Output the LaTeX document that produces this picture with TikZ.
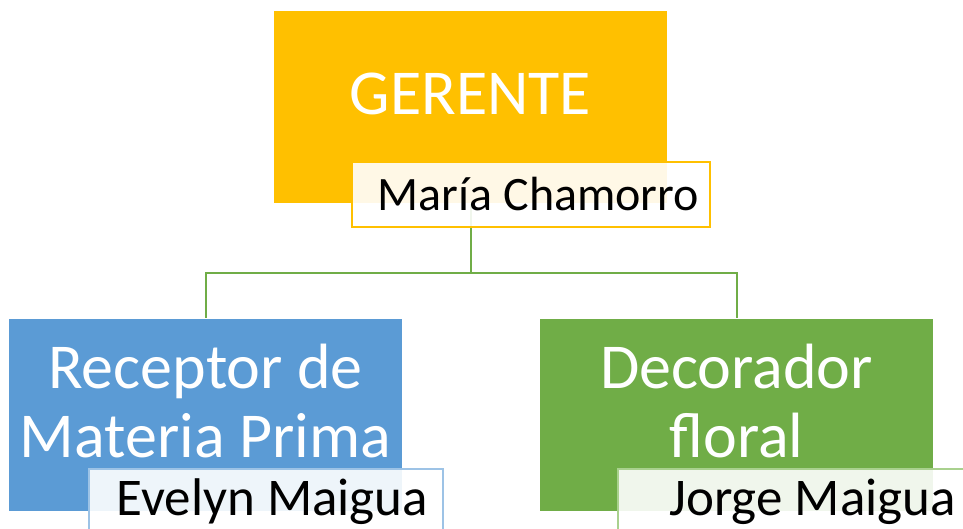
\documentclass[tikz,border=0pt]{standalone}
\usepackage{fontspec}
\setmainfont{Carlito}
\usetikzlibrary{positioning,calc}

\definecolor{oro}{HTML}{FFC000}
\definecolor{azul}{HTML}{5B9BD5}
\definecolor{verde}{HTML}{70AD47}
\definecolor{azulclaro}{HTML}{9DC3E6}
\definecolor{verdeclaro}{HTML}{A9D18E}

\begin{document}
\begin{tikzpicture}[x=1pt,y=-1pt,
    cargo/.style={rectangle,minimum width=393pt,minimum height=192pt,inner sep=0pt},
    titulo/.style={text=white,align=center,inner sep=0pt,font=\fontsize{64}{69}\selectfont},
    nombre/.style={rectangle,draw,line width=1.5pt,fill=white,fill opacity=0.9,text opacity=1,
        minimum height=65pt,inner sep=0pt,font=\fontsize{53}{58}\selectfont},
    linea/.style={draw=verde,line width=2pt}
    ]
\useasboundingbox (0,0) rectangle (963,529);
\clip (0,0) rectangle (963,529);

% Cargos
\node[cargo,fill=oro] (gerente) at (470.5,107.5) {};
\node[cargo,fill=azul] (receptor) at (205.5,414.5) {};
\node[cargo,fill=verde] (decorador) at (736.5,414.5) {};

\node[titulo] (tGerente) at ([yshift=14pt]gerente.center) {GERENTE};
\node[titulo] (tReceptor) at ([yshift=13pt]receptor.center) {Receptor de\\Materia Prima};
\node[titulo] (tDecorador) at ([yshift=13pt]decorador.center) {Decorador\\floral};

% Conectores
\draw[linea] (gerente.south) -- ++(0,69) -| (receptor.north);
\draw[linea] (gerente.south) -- ++(0,69) -| (decorador.north);

% Nombres
\node[nombre,draw=oro,minimum width=358pt,font=\fontsize{48}{52}\selectfont] (nGerente) at (531,194.5) {\hspace*{15pt}María Chamorro};
\node[nombre,draw=azulclaro,minimum width=354pt] (nReceptor) at (266,501.5) {\hspace*{13pt}Evelyn Maigua};
\node[nombre,draw=verdeclaro,minimum width=355pt] (nDecorador) at (795.5,501.5) {\hspace*{34pt}Jorge Maigua};

\end{tikzpicture}
\end{document}
